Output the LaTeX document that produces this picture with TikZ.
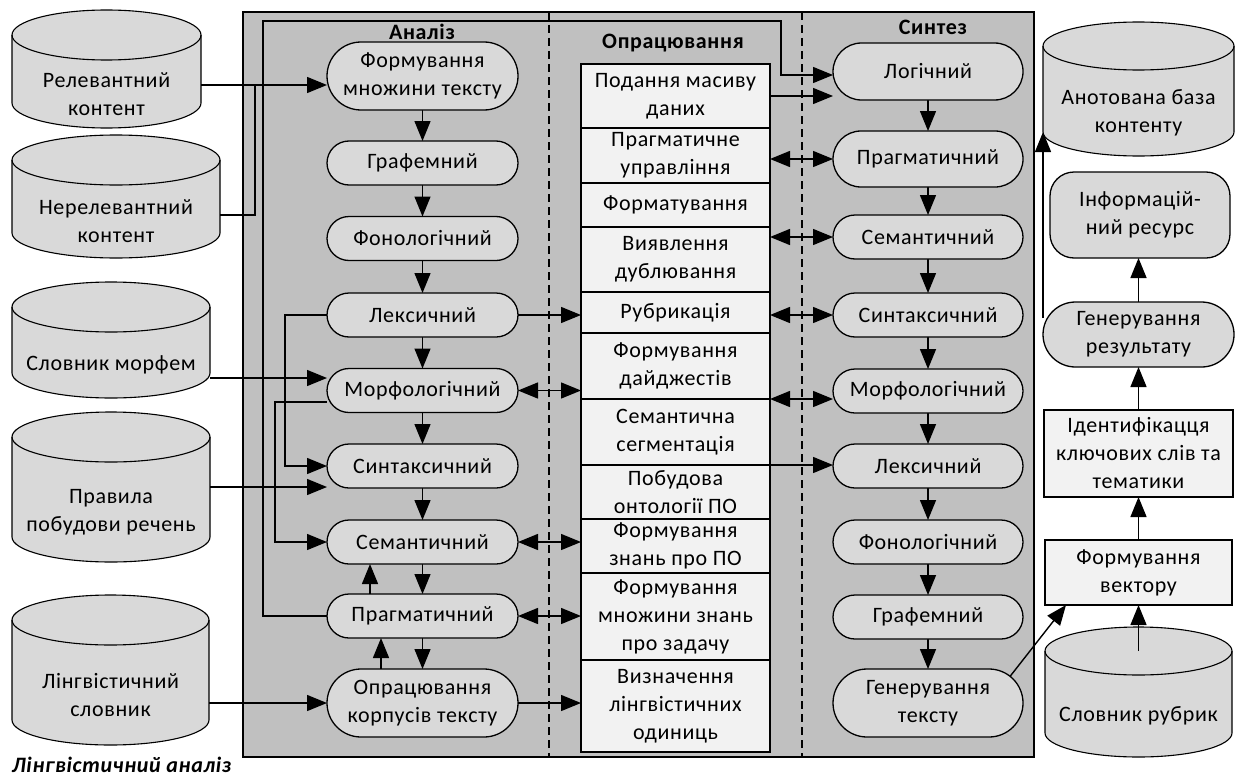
\documentclass[tikz,border=0pt]{standalone}
\usepackage{fontspec}
\setmainfont{Carlito}[LetterSpace=3]
\usetikzlibrary{shapes.misc,arrows.meta,calc}

\definecolor{panelgray}{RGB}{192,192,192}
\definecolor{nodegray}{RGB}{217,217,217}
\definecolor{boxgray}{RGB}{242,242,242}

\pgfdeclarelayer{bg}
\pgfdeclarelayer{mid}
\pgfsetlayers{bg,mid,main}

% vertical cylinder drawn round a body node: #1 node name, #2 half height of the end caps (pt)
\newcommand\dbcylinder[2]{%
  \path[fill=nodegray, draw=black, cylline]
    let \p1=(#1.south west), \p2=(#1.north east), \n1={0.5*(\x2-\x1)} in
    (\x1,\y2+#2pt) -- (\x1,\y1+#2pt)
    arc[start angle=180, end angle=360, x radius=\n1, y radius=#2pt]
    -- (\x2,\y2+#2pt)
    arc[start angle=0, end angle=180, x radius=\n1, y radius=#2pt] -- cycle;
  \draw[cylline]
    let \p1=(#1.south west), \p2=(#1.north east), \n1={0.5*(\x2-\x1)} in
    (\x1,\y2+#2pt) arc[start angle=180, end angle=360, x radius=\n1, y radius=#2pt];
}

\begin{document}
\begin{tikzpicture}[x=1pt, y=1pt,
  every node/.style={font=\fontsize{22}{28}\selectfont, align=center, inner sep=0pt, outer sep=0pt},
  ln/.style={line width=1.4pt},
  arr/.style={ln, -{Triangle[length=20pt, width=16pt]}},
  darr/.style={ln, {Triangle[length=20pt, width=16pt]}-{Triangle[length=20pt, width=16pt]}},
  stagenode/.style={rounded rectangle, draw, line width=1.3pt, fill=nodegray, minimum height=44pt},
  annode/.style={stagenode, minimum width=191pt},
  synode/.style={stagenode, minimum width=190pt},
  opbox/.style={rectangle, draw, line width=1.3pt, fill=boxgray, minimum width=189pt},
  cylbody/.style={rectangle, minimum width=#1},
  cylline/.style={line width=1.1pt},
  coltitle/.style={font=\fontsize{22}{28}\selectfont\bfseries},
  divider/.style={line width=1.3pt, dash pattern=on 8pt off 5pt},
]
\useasboundingbox (0,0) rectangle (1238,-776);

% column headings
\node[coltitle] (tAn) at (422,-32) {Аналіз};
\node[coltitle] (tOp) at (673,-43) {Опрацювання};
\node[coltitle] (tSy) at (933,-27) {Синтез};

% analysis column
\node[annode, minimum height=68pt] (an1) at (422.5,-76) {Формування\\множини тексту};
\node[annode] (an2) at (422.5,-163) {Графемний};
\node[annode] (an3) at (422.5,-238.5) {Фонологічний};
\node[annode] (an4) at (422.5,-315) {Лексичний};
\node[annode] (an5) at (422.5,-390.5) {Морфологічний};
\node[annode] (an6) at (422.5,-466) {Синтаксичний};
\node[annode] (an7) at (422.5,-542) {Семантичний};
\node[annode] (an8) at (422.5,-616) {Прагматичний};
\node[annode, minimum height=68pt] (an9) at (422.5,-703) {Опрацювання\\корпусів тексту};

% processing column
\node[opbox, minimum height=64pt] (pb1) at (675.5,-96) {Подання масиву\\даних};
\node[opbox, minimum height=55pt] (pb2) at (675.5,-155.5) {Прагматичне\\управління};
\node[opbox, minimum height=44pt] (pb3) at (675.5,-205) {Форматування};
\node[opbox, minimum height=65pt] (pb4) at (675.5,-259.5) {Виявлення\\дублювання};
\node[opbox, minimum height=41pt] (pb5) at (675.5,-312.5) {Рубрикація};
\node[opbox, minimum height=66pt] (pb6) at (675.5,-366) {Формування\\дайджестів};
\node[opbox, minimum height=66pt] (pb7) at (675.5,-432) {Семантична\\сегментація};
\node[opbox, minimum height=54pt] (pb8) at (675.5,-492) {Побудова\\онтології ПО};
\node[opbox, minimum height=54pt] (pb9) at (675.5,-546) {Формування\\знань про ПО};
\node[opbox, minimum height=87pt] (pb10) at (675.5,-616.5) {Формування\\множини знань\\про задачу};
\node[opbox, minimum height=92pt] (pb11) at (675.5,-706) {Визначення\\лінгвістичних\\одиниць};

% synthesis column
\node[synode, minimum height=57pt] (sy1) at (928,-71.5) {Логічний};
\node[synode, minimum height=56pt] (sy2) at (928,-159) {Прагматичний};
\node[synode] (sy3) at (928,-237) {Семантичний};
\node[synode] (sy4) at (928,-315) {Синтаксичний};
\node[synode] (sy5) at (928,-391) {Морфологічний};
\node[synode] (sy6) at (928,-466) {Лексичний};
\node[synode] (sy7) at (928,-542) {Фонологічний};
\node[synode] (sy8) at (928,-617) {Графемний};
\node[synode, minimum height=68pt] (sy9) at (928,-703) {Генерування\\тексту};

% data stores (body part of each cylinder)
\node[cylbody=189pt, minimum height=68pt] (rel) at (106.5,-94) {Релевантний\\контент};
\node[cylbody=208pt, minimum height=73pt] (nerel) at (116,-221.5) {Нерелевантний\\контент};
\node[cylbody=198pt, minimum height=66pt] (morf) at (111,-365) {Словник морфем};
\node[cylbody=198pt, minimum height=100pt] (prav) at (111,-512) {Правила\\побудови речень};
\node[cylbody=197pt, minimum height=100pt] (ling) at (110.5,-695) {Лінгвістичний\\словник};
\node[cylbody=191pt, minimum height=86pt] (anot) at (1138.5,-113) {Анотована база\\контенту};
\node[cylbody=187pt, minimum height=82pt] (rubr) at (1138.5,-716) {Словник рубрик};

% output chain
\node[rectangle, rounded corners=24pt, draw, line width=1.3pt, fill=nodegray,
      minimum width=180pt, minimum height=86pt] (ir) at (1140,-215) {Інформацій-\\ний ресурс};
\node[stagenode, minimum width=191pt, minimum height=65pt] (gr) at (1138.5,-334.5) {Генерування\\результату};
\node[opbox, minimum height=87pt] (id) at (1138.5,-453.5) {Ідентифікацця\\ключових слів та\\тематики};
\node[opbox, minimum width=187pt, minimum height=65pt] (fv) at (1138.5,-572.5) {Формування\\вектору};

% caption
\node[font=\fontsize{22}{28}\selectfont\bfseries\itshape, anchor=west] (cap) at (12,-765) {Лінгвістичний аналіз};

% panel, column dividers and cylinders
\begin{pgfonlayer}{bg}
  \draw[line width=1.3pt, fill=panelgray] (243,-12) rectangle (1034,-757);
  \draw[divider] (549,-12) -- (549,-757);
  \draw[divider] (802,-12) -- (802,-757);
  \dbcylinder{rel}{25}
  \dbcylinder{nerel}{25}
  \dbcylinder{morf}{25}
  \dbcylinder{prav}{25}
  \dbcylinder{ling}{25}
  \dbcylinder{anot}{24}
  \dbcylinder{rubr}{24}
\end{pgfonlayer}

% connectors
\begin{pgfonlayer}{mid}
  \coordinate (j1) at (255,-85);
  \coordinate (lp1) at (263,-21);
  \coordinate (lp2) at (781,-21);
  \coordinate (lp3) at (275,-542);
  \coordinate (lp4) at (285,-466);

  % inputs of the analysis
  \draw[arr] (rel.east |- j1) -- (an1.west |- j1);
  \draw[ln] ([yshift=6.5pt]nerel.east) -| (j1);
  \draw[arr] ([yshift=-13pt]morf.east) -- ([yshift=12.5pt]an5.west);
  \draw[arr] ([yshift=25pt]prav.east) -- ([yshift=-21pt]an6.west);
  \draw[arr] (ling.east |- an9.west) -- (an9.west);

  % analysis chain
  \foreach \a/\b in {an1/an2, an2/an3, an3/an4, an4/an5, an5/an6, an6/an7, an7/an8, an8/an9}
    \draw[arr] (\a.south) -- (\b.north);
  \draw[arr] ([xshift=-52.5pt]an8.north) -- ([xshift=-52.5pt]an7.south);
  \draw[arr] ([xshift=-41.5pt]an9.north) -- ([xshift=-41.5pt]an8.south);

  % feedback loops
  \draw[arr] (an4.west) -| (lp4) -- (an6.west);
  \draw[arr] ([yshift=-11.5pt]an5.west) -| (lp3) -- (an7.west);
  \draw[arr] (an8.west) -| (lp1) -- (lp2) |- ([yshift=-3.5pt]sy1.west);

  % analysis to processing
  \draw[arr] (an4.east) -- (an4.east -| pb5.west);
  \draw[darr] (an5.east) -- (an5.east -| pb6.west);
  \draw[darr] (an7.east) -- (an7.east -| pb9.west);
  \draw[darr] (an8.east) -- (an8.east -| pb10.west);
  \draw[arr] (an9.east) -- (an9.east -| pb11.west);

  % processing to synthesis
  \draw[arr] (pb1.east) -- (pb1.east -| sy1.west);
  \draw[darr] (pb2.east |- sy2.west) -- (sy2.west);
  \draw[darr] (pb4.east |- sy3.west) -- (sy3.west);
  \draw[darr] (pb5.east |- sy4.west) -- (sy4.west);
  \draw[darr] (pb6.south east) -- (pb6.south east -| sy5.west);
  \draw[arr] (pb7.south east) -- (pb7.south east -| sy6.west);

  % synthesis chain
  \foreach \a/\b in {sy1/sy2, sy2/sy3, sy3/sy4, sy4/sy5, sy5/sy6, sy6/sy7, sy7/sy8, sy8/sy9}
    \draw[arr] (\a.south) -- (\b.north);

  % output chain
  \draw[arr] (sy9.18) -- ([xshift=21pt]fv.south west);
  \draw[arr] ([yshift=24pt]rubr.north) -- (fv.south);
  \draw[arr] (fv.north) -- (id.south);
  \draw[arr] (id.north) -- (gr.south);
  \draw[arr] (gr.north) -- (gr.north |- ir.south);
  \draw[arr] ([yshift=16.5pt]gr.west) -- ([yshift=24pt]anot.south west);
\end{pgfonlayer}
\end{tikzpicture}
\end{document}
